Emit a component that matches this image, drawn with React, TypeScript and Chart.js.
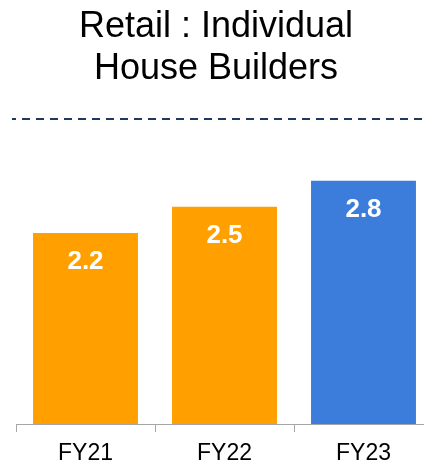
import React, { useEffect, useRef } from "react";
import { Chart, registerables } from "chart.js";

Chart.register(...registerables);

const titleLines = ["Retail : Individual", "House Builders"];
const categories = ["FY21", "FY22", "FY23"];
const values = [2.2, 2.5, 2.8];
const barColors = ["#FFA000", "#FFA000", "#3C7DDB"];
const yMax = 3.5;

const FONT = "'Liberation Sans', Arial, sans-serif";

const titlePlugin = {
  id: "customTitle",
  afterDraw(chart: any) {
    const { ctx } = chart;
    ctx.save();
    ctx.fillStyle = "#000000";
    ctx.font = `36px ${FONT}`;
    ctx.textAlign = "center";
    ctx.textBaseline = "alphabetic";
    const baselines = [37, 79];
    titleLines.forEach((line, i) => {
      ctx.fillText(line, 216, baselines[i]);
    });
    ctx.restore();
  },
};

const dashedLinePlugin = {
  id: "dashedLine",
  afterDraw(chart: any) {
    const { ctx, chartArea } = chart;
    ctx.save();
    ctx.strokeStyle = "#1F3A5F";
    ctx.lineWidth = 2;
    ctx.setLineDash([8, 6]);
    ctx.lineDashOffset = 4;
    const y = chartArea.top - 1;
    ctx.beginPath();
    ctx.moveTo(12, y);
    ctx.lineTo(chart.width, y);
    ctx.stroke();
    ctx.restore();
  },
};

const valueLabelPlugin = {
  id: "valueLabels",
  afterDatasetsDraw(chart: any) {
    const { ctx } = chart;
    const meta = chart.getDatasetMeta(0);
    ctx.save();
    ctx.fillStyle = "#FFFFFF";
    ctx.font = `bold 26px ${FONT}`;
    ctx.textAlign = "center";
    ctx.textBaseline = "middle";
    meta.data.forEach((bar: any, i: number) => {
      ctx.fillText(values[i].toFixed(1), bar.x, bar.y + 29);
    });
    ctx.restore();
  },
};

export default function App() {
  const canvasRef = useRef<HTMLCanvasElement>(null);

  useEffect(() => {
    if (!canvasRef.current) return;
    const chart = new Chart(canvasRef.current, {
      type: "bar",
      data: {
        labels: categories,
        datasets: [
          {
            data: values,
            backgroundColor: barColors,
            borderWidth: 0,
            categoryPercentage: 1,
            barPercentage: 0.755,
          },
        ],
      },
      options: {
        animation: false,
        responsive: false,
        maintainAspectRatio: false,
        layout: { padding: { left: 16, right: 7, top: 120, bottom: 0 } },
        plugins: {
          legend: { display: false },
          tooltip: { enabled: false },
          title: { display: false },
        },
        scales: {
          x: {
            grid: {
              display: true,
              drawOnChartArea: false,
              drawTicks: true,
              tickLength: 8,
              color: "#A6A6A6",
            },
            border: { display: true, color: "#A6A6A6", width: 1 },
            ticks: {
              color: "#000000",
              font: { family: FONT, size: 23 },
              padding: 8,
            },
            afterFit: (axis: any) => {
              axis.height = 44;
            },
          },
          y: {
            display: false,
            min: 0,
            max: yMax,
          },
        },
      },
      plugins: [titlePlugin, dashedLinePlugin, valueLabelPlugin],
    });
    return () => chart.destroy();
  }, []);

  return (
    <div
      style={{
        position: "fixed",
        left: 0,
        top: 0,
        width: 424,
        height: 468,
        overflow: "hidden",
        background: "#fff",
      }}
    >
      <canvas ref={canvasRef} width={440} height={468} style={{ display: "block" }} />
    </div>
  );
}
